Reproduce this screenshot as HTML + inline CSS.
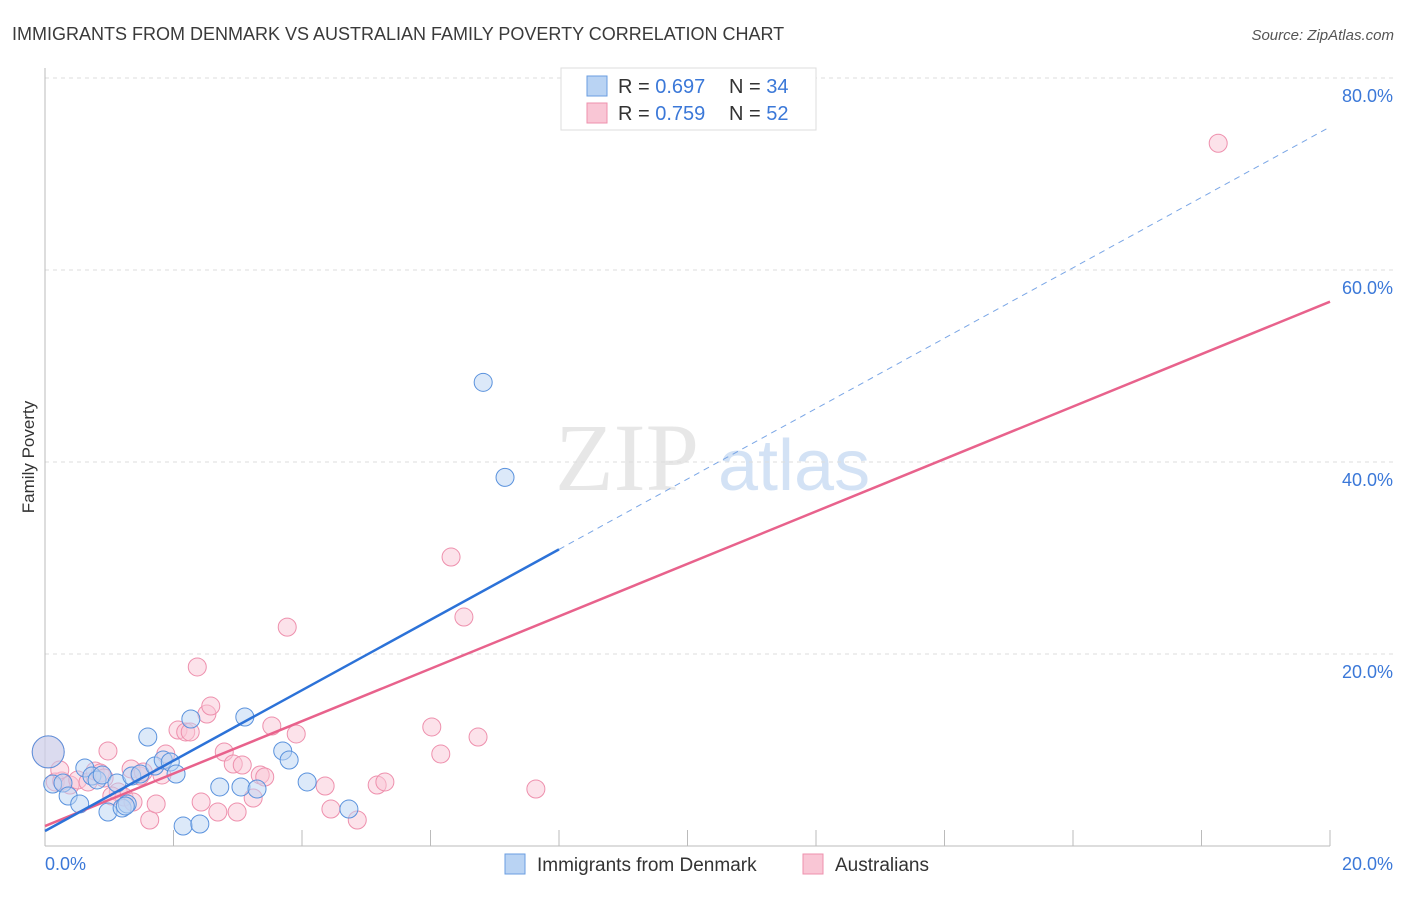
<!DOCTYPE html>
<html><head><meta charset="utf-8"><style>
body{margin:0;background:#fff;font-family:"Liberation Sans",sans-serif;}
</style></head><body>
<svg id="chart" width="1406" height="892" xmlns="http://www.w3.org/2000/svg" font-family="Liberation Sans, sans-serif">
<text x="12" y="40" font-size="18" fill="#3a3a3a">IMMIGRANTS FROM DENMARK VS AUSTRALIAN FAMILY POVERTY CORRELATION CHART</text>
<text x="1394" y="40" font-size="15" fill="#555" font-style="italic" text-anchor="end">Source: ZipAtlas.com</text>
<text transform="translate(34,457) rotate(-90)" font-size="17" fill="#333" text-anchor="middle">Family Poverty</text>
<g opacity="0.5">
<text x="555" y="490" font-size="96" font-family="Liberation Serif, serif" fill="#d0d0d0">ZIP</text>
<text x="718" y="490" font-size="72" fill="#a9c6ec">atlas</text>
</g>
<g id="grid"></g><g id="axes"></g><g id="marks"></g>
<g>
<rect x="561" y="68" width="255" height="62" fill="#fff" stroke="#ddd"/>
<rect x="587" y="76" width="20" height="20" fill="#b9d3f3" stroke="#6a9ee0"/>
<rect x="587" y="103" width="20" height="20" fill="#f9c6d5" stroke="#ee90ad"/>
<text x="618" y="93" font-size="20" fill="#333">R = <tspan fill="#3b78d8">0.697</tspan></text>
<text x="729" y="93" font-size="20" fill="#333">N = <tspan fill="#3b78d8">34</tspan></text>
<text x="618" y="120" font-size="20" fill="#333">R = <tspan fill="#3b78d8">0.759</tspan></text>
<text x="729" y="120" font-size="20" fill="#333">N = <tspan fill="#3b78d8">52</tspan></text>
</g>
<g>
<rect x="505" y="854" width="20" height="20" fill="#b9d3f3" stroke="#6a9ee0"/>
<text x="537" y="871" font-size="19" fill="#333">Immigrants from Denmark</text>
<rect x="803" y="854" width="20" height="20" fill="#f9c6d5" stroke="#ee90ad"/>
<text x="835" y="871" font-size="19" fill="#333">Australians</text>
</g>
</svg>
<script>
const yTicks=[20,40,60,80];
const yTickLabels=["20.0%","40.0%","60.0%","80.0%"];
const blueX=[.12,.28,.36,.54,.62,.73,.81,.89,.98,1.12,1.20,1.28,1.35,1.48,1.60,1.71,1.84,1.95,2.04,2.15,2.27,2.41,2.72,3.05,3.11,3.30,3.70,3.80,4.08,4.73,6.82,7.16,.05,1.25];
const blueY=[6.46,6.56,5.21,4.38,8.13,7.29,6.88,7.40,3.54,6.56,3.96,4.38,7.29,7.50,11.35,8.33,8.96,8.75,7.50,2.08,13.23,2.29,6.15,6.15,13.44,5.94,9.90,8.96,6.67,3.85,48.3,38.4,9.8,4.17];
const pinkX=[.05,.16,.26,.39,.51,.67,.78,.86,.92,.98,1.14,1.23,1.34,1.48,1.53,1.63,1.73,1.82,1.88,2.07,2.19,2.26,2.37,2.43,2.52,2.58,2.69,2.79,2.93,2.99,3.07,3.24,3.35,3.42,3.53,3.77,3.91,4.36,4.45,4.86,5.17,5.29,6.02,6.16,6.32,6.52,6.74,7.64,18.26,.23,1.37,1.04];
const pinkY=[9.8,6.67,6.77,6.35,6.88,6.67,7.81,7.60,7.08,9.90,5.63,5.10,8.02,7.29,7.71,2.71,4.38,7.40,9.58,12.08,11.88,11.88,18.65,4.58,13.75,14.58,3.54,9.79,8.54,3.54,8.44,5.00,7.40,7.19,12.5,22.8,11.67,6.25,3.85,2.71,6.35,6.67,12.40,9.58,30.1,23.85,11.35,5.94,73.2,7.92,4.58,5.21];
const blueLine=[1.56,74.9];
const pinkLine=[2.08,56.7];
const blueSolidEnd=8.0;
const X=v=>45+v*64.25, Y=v=>846-v*9.6;
const NS="http://www.w3.org/2000/svg";
function mk(t,a,p){const e=document.createElementNS(NS,t);for(const k in a)e.setAttribute(k,a[k]);p.appendChild(e);return e;}
const grid=document.getElementById('grid'),axes=document.getElementById('axes'),marks=document.getElementById('marks');
yTicks.forEach((t,i)=>{
 const l=mk('line',{x1:45,x2:1394,y1:Y(t),y2:Y(t),stroke:'#ddd','stroke-dasharray':'4,4'},grid);
 
 
 const tx=mk('text',{x:1393,y:Y(t)+24,'font-size':18,fill:'#3b78d8','text-anchor':'end'},axes);
 tx.textContent=yTickLabels[i];
 
 
});
const ax=mk('line',{x1:45,x2:45,y1:68,y2:846,stroke:'#bbb'},axes);


const bx=mk('line',{x1:45,x2:1330,y1:846,y2:846,stroke:'#bbb'},axes);


for(let i=1;i<=10;i++){const t=mk('line',{x1:X(i*2),x2:X(i*2),y1:830,y2:846,stroke:'#bbb'},axes);
 
 }
[["0.0%",45,'start'],["20.0%",1393,'end']].forEach(d=>{const t=mk('text',{x:d[1],y:870,'font-size':18,fill:'#3b78d8','text-anchor':d[2]},axes);t.textContent=d[0];
 
 });
function pts(xs,ys,fill,stroke,name){xs.forEach((x,i)=>{const big=(x<0.1&&ys[i]>9);
 const c=mk('circle',{cx:X(x),cy:Y(ys[i]),r:big?16:9,fill:fill,'fill-opacity':0.5,stroke:stroke,'stroke-width':1},marks);
 
 });}
pts(pinkX,pinkY,'#f9c6d5','#ee90ad','australians-point');
pts(blueX,blueY,'#b9d3f3','#5a92dd','denmark-point');
const l1=mk('line',{x1:X(0),y1:Y(pinkLine[0]),x2:X(20),y2:Y(pinkLine[1]),stroke:'#e8628c','stroke-width':2.5},marks);


const by=x=>blueLine[0]+(blueLine[1]-blueLine[0])*x/20;
const l2=mk('line',{x1:X(0),y1:Y(by(0)),x2:X(blueSolidEnd),y2:Y(by(blueSolidEnd)),stroke:'#2c72d8','stroke-width':2.5},marks);


const l3=mk('line',{x1:X(blueSolidEnd),y1:Y(by(blueSolidEnd)),x2:X(20),y2:Y(by(20)),stroke:'#7aa6e6','stroke-width':1,'stroke-dasharray':'6,5'},marks);


</script>
</body></html>
